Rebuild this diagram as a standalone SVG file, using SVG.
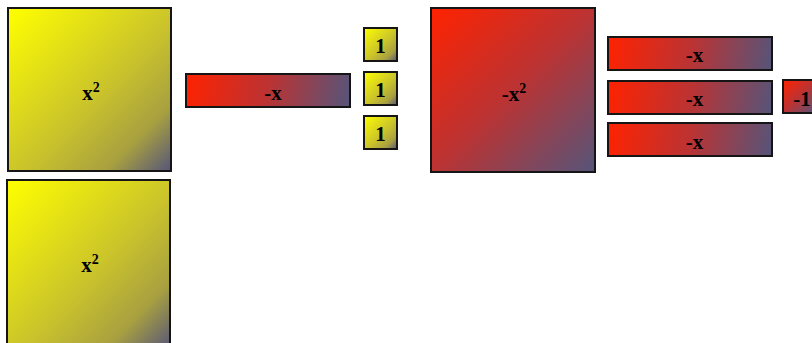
<svg xmlns="http://www.w3.org/2000/svg" xmlns:xlink="http://www.w3.org/1999/xlink" width="812" height="343" viewBox="0 0 812 343">
<defs>
<linearGradient id="gy" x1="0" y1="0" x2="1" y2="1">
<stop offset="0" stop-color="#ffff00"/>
<stop offset="0.55" stop-color="#c9c22c"/>
<stop offset="0.8" stop-color="#a8a040"/>
<stop offset="1" stop-color="#55557a"/>
</linearGradient>
<linearGradient id="gr" x1="0" y1="0" x2="1" y2="1">
<stop offset="0" stop-color="#ff2200"/>
<stop offset="0.5" stop-color="#bb3333"/>
<stop offset="1" stop-color="#55557a"/>
</linearGradient>
<linearGradient id="gb0" href="#gr" xlink:href="#gr" gradientUnits="userSpaceOnUse" x1="186" y1="74" x2="350" y2="107"/>
<linearGradient id="gb1" href="#gr" xlink:href="#gr" gradientUnits="userSpaceOnUse" x1="608" y1="37" x2="772" y2="70"/>
<linearGradient id="gb2" href="#gr" xlink:href="#gr" gradientUnits="userSpaceOnUse" x1="608" y1="81" x2="772" y2="114"/>
<linearGradient id="gb3" href="#gr" xlink:href="#gr" gradientUnits="userSpaceOnUse" x1="608" y1="123" x2="772" y2="156"/>
</defs>
<style>
rect{stroke:#151515;stroke-width:2}
.y{fill:url(#gy)}
.r{fill:url(#gr)}
text{font-family:"Liberation Serif","Times New Roman",serif;font-weight:bold;font-size:21px;fill:#000;text-anchor:middle}
.sup{font-size:14px}
</style>
<g id="x2a"><rect class="y" x="8" y="8" width="163" height="163"/><text x="91" y="100">x<tspan class="sup" dy="-8">2</tspan></text></g>
<g id="x2b"><rect class="y" x="7" y="180" width="163" height="170"/><text x="90" y="272">x<tspan class="sup" dy="-8">2</tspan></text></g>
<g id="negx0"><rect fill="url(#gb0)" x="186" y="74" width="164" height="33"/><text x="273" y="100">-x</text></g>
<g id="one1"><rect class="y" x="364" y="28" width="33" height="33"/><text x="380.5" y="53">1</text></g>
<g id="one2"><rect class="y" x="364" y="72" width="33" height="33"/><text x="380.5" y="97">1</text></g>
<g id="one3"><rect class="y" x="364" y="116" width="33" height="33"/><text x="380.5" y="141">1</text></g>
<g id="negx2"><rect class="r" x="431" y="8" width="164" height="164"/><text x="514" y="101">-x<tspan class="sup" dy="-8">2</tspan></text></g>
<g id="negx1"><rect fill="url(#gb1)" x="608" y="37" width="164" height="33"/><text x="694.5" y="62">-x</text></g>
<g id="negx2b"><rect fill="url(#gb2)" x="608" y="81" width="164" height="33"/><text x="694.5" y="106">-x</text></g>
<g id="negx3"><rect fill="url(#gb3)" x="608" y="123" width="164" height="33"/><text x="694.5" y="149">-x</text></g>
<g id="neg1"><rect class="r" x="783" y="80" width="33" height="33"/><text x="802" y="106">-1</text></g>
<g id="connectors"/>
</svg>
